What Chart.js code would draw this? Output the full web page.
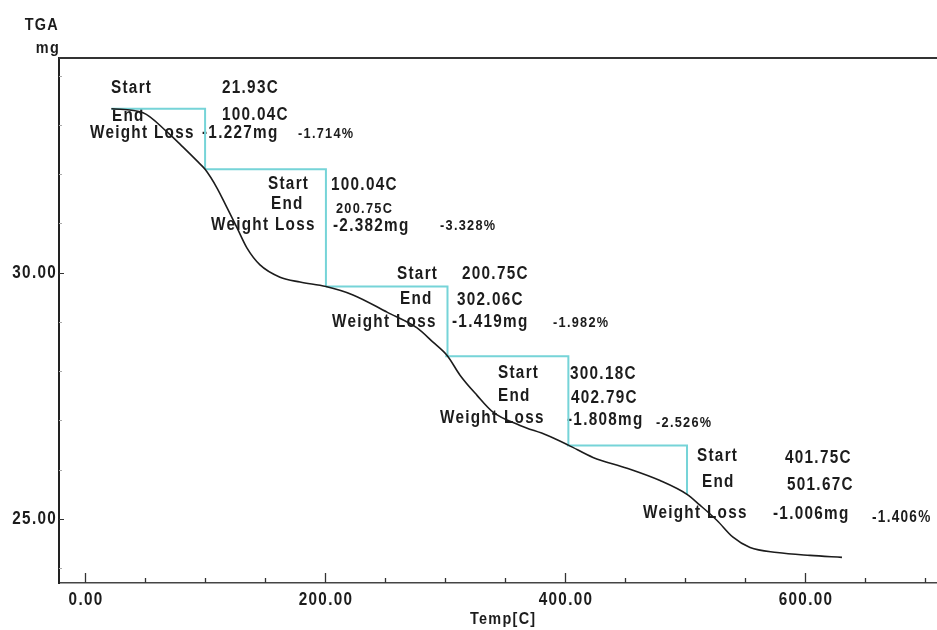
<!DOCTYPE html>
<html>
<head>
<meta charset="utf-8">
<title>TGA</title>
<script src="https://cdn.jsdelivr.net/npm/chart.js@4.4.1/dist/chart.umd.min.js"></script>
<style>
  html, body { margin: 0; padding: 0; background: #fff; }
  canvas { display: block; }
</style>
</head>
<body>
<canvas id="tga" width="937" height="630"></canvas>
<script>
// TGA trace: furnace temperature (C) against sample mass (mg)
const tempC = [21.93, 48.3, 68.3, 81.7, 93.3, 100.04, 110, 118.3, 126.7, 135, 145.8, 162.5, 179.2, 200.75,
  223.3, 251.7, 276.7, 290, 302.06, 312.5, 326.7, 340, 362.5, 385, 402.79, 423.3, 451.7, 479.2, 501.67,
  512.5, 526.7, 540, 554.2, 576.7, 604.2, 630.8];
const massMg = [33.33, 33.25, 32.86, 32.55, 32.27, 32.10, 31.72, 31.32, 30.91, 30.50, 30.16, 29.91, 29.81, 29.72,
  29.55, 29.20, 28.88, 28.59, 28.31, 27.92, 27.51, 27.17, 26.90, 26.70, 26.50, 26.25, 26.03, 25.78, 25.50,
  25.28, 24.97, 24.63, 24.42, 24.32, 24.26, 24.22];

// Weight-loss steps from the analysis
const stepStartC = [21.93, 100.04, 200.75, 300.18, 401.75];
const stepEndC = [100.04, 200.75, 302.06, 402.79, 501.67];
const stepLossMg = [-1.227, -2.382, -1.419, -1.808, -1.006];
const stepLossPct = [-1.714, -3.328, -1.982, -2.526, -1.406];
const onsetMassMg = 33.33;

// Axis labels
const xTickValues = [0, 200, 400, 600];
const yTickValues = [25, 30];

// Where each step's text block sits: [left x, centre y] for each line
const stepTextLayout = [
  { start: [111, 88],  startVal: [222, 88],  end: [112, 116], endVal: [222, 115], wl: [90, 133],  mg: [202, 133], pct: [298, 134] },
  { start: [268, 184], startVal: [331, 185], end: [271, 204], endVal: [336, 209], wl: [211, 225], mg: [333, 226], pct: [440, 226], endValSize: 15 },
  { start: [397, 274], startVal: [462, 274], end: [400, 299], endVal: [457, 300], wl: [332, 322], mg: [452, 322], pct: [553, 323] },
  { start: [498, 373], startVal: [570, 374], end: [498, 396], endVal: [571, 398], wl: [440, 418], mg: [567, 420], pct: [656, 423] },
  { start: [697, 456], startVal: [785, 458], end: [702, 482], endVal: [787, 485], wl: [643, 513], mg: [773, 514], pct: [872, 518], pctSize: 16 }
];

const FONT_FAMILY = '"Liberation Sans", Arial, sans-serif';
const INK = '#1c1c1c';
const CYAN = 'rgb(118, 212, 216)';

// Tall, narrow bold lettering: horizontally squeezed with open spacing
function drawLabel(ctx, text, x, y, size, align) {
  ctx.save();
  ctx.font = 'bold ' + size + 'px ' + FONT_FAMILY;
  ctx.letterSpacing = '1.5px';
  ctx.fillStyle = INK;
  ctx.textBaseline = 'middle';
  ctx.textAlign = align || 'left';
  ctx.translate(x, y);
  ctx.scale(0.85, 1);
  ctx.fillText(text, 0, 0);
  ctx.restore();
}

// Step outlines: horizontal run at the onset mass, then the drop by the step's loss
const stepDatasets = [];
let topMass = onsetMassMg;
for (let i = 0; i < stepStartC.length; i++) {
  const bottom = topMass + stepLossMg[i];
  stepDatasets.push({
    data: [
      { x: stepStartC[i], y: topMass },
      { x: stepEndC[i], y: topMass },
      { x: stepEndC[i], y: bottom }
    ],
    showLine: true,
    borderColor: CYAN,
    borderWidth: 2,
    pointRadius: 0,
    tension: 0,
    order: 2
  });
  topMass = bottom;
}

const curveDataset = {
  data: tempC.map((t, i) => ({ x: t, y: massMg[i] })),
  showLine: true,
  borderColor: INK,
  borderWidth: 1.6,
  pointRadius: 0,
  cubicInterpolationMode: 'monotone',
  order: 0
};

const tgaDecor = {
  id: 'tgaDecor',
  beforeDatasetsDraw(chart) {
    const { ctx, chartArea: a, scales: { x, y } } = chart;
    ctx.save();

    // upper frame line
    ctx.strokeStyle = '#333';
    ctx.lineWidth = 2;
    ctx.beginPath();
    ctx.moveTo(a.left, a.top);
    ctx.lineTo(a.right, a.top);
    ctx.stroke();

    // inward tick marks on the temperature axis, every 50 C
    ctx.strokeStyle = '#333';
    ctx.lineWidth = 1.3;
    for (let t = 0; t <= 700; t += 50) {
      const px = Math.round(x.getPixelForValue(t)) + 0.5;
      const len = t % 200 === 0 ? 10 : 5;
      ctx.beginPath();
      ctx.moveTo(px, a.bottom);
      ctx.lineTo(px, a.bottom - len);
      ctx.stroke();
    }
    // inward tick marks on the mass axis, every 1 mg
    ctx.lineWidth = 1;
    for (let m = 24; m <= 34; m++) {
      const py = Math.round(y.getPixelForValue(m)) + 0.5;
      const len = m % 5 === 0 ? 5 : 3;
      ctx.strokeStyle = m % 5 === 0 ? '#333' : '#aaa';
      ctx.beginPath();
      ctx.moveTo(a.left, py);
      ctx.lineTo(a.left + len, py);
      ctx.stroke();
    }

    // tick labels, placed through the scales
    xTickValues.forEach(v => drawLabel(ctx, v.toFixed(2), x.getPixelForValue(v) + 1, 600, 18, 'center'));
    yTickValues.forEach(v => drawLabel(ctx, v.toFixed(2), 57, y.getPixelForValue(v), 18, 'right'));

    // axis titles
    drawLabel(ctx, 'TGA', 59, 25, 17, 'right');
    drawLabel(ctx, 'mg', 60, 48, 17, 'right');
    drawLabel(ctx, 'Temp[C]', 470, 619, 17, 'left');

    // step annotations
    stepTextLayout.forEach((p, i) => {
      drawLabel(ctx, 'Start', p.start[0], p.start[1], 18);
      drawLabel(ctx, stepStartC[i].toFixed(2) + 'C', p.startVal[0], p.startVal[1], 18);
      drawLabel(ctx, 'End', p.end[0], p.end[1], 18);
      drawLabel(ctx, stepEndC[i].toFixed(2) + 'C', p.endVal[0], p.endVal[1], p.endValSize || 18);
      drawLabel(ctx, 'Weight Loss', p.wl[0], p.wl[1], 18);
      drawLabel(ctx, stepLossMg[i].toFixed(3) + 'mg', p.mg[0], p.mg[1], 18);
      drawLabel(ctx, stepLossPct[i].toFixed(3) + '%', p.pct[0], p.pct[1], p.pctSize || 15);
    });

    ctx.restore();
  }
};

new Chart(document.getElementById('tga'), {
  type: 'scatter',
  data: { datasets: [curveDataset, ...stepDatasets] },
  options: {
    responsive: false,
    animation: false,
    devicePixelRatio: 1,
    layout: { padding: { top: 58, right: 0, bottom: 0, left: 0 } },
    plugins: {
      legend: { display: false },
      tooltip: { enabled: false }
    },
    scales: {
      x: {
        type: 'linear',
        min: -21.7,
        max: 710,
        afterFit(scale) { scale.height = 47; },
        grid: { display: false, drawTicks: false },
        border: { display: true, color: '#444', width: 1.5 },
        ticks: { display: false }
      },
      y: {
        type: 'linear',
        min: 23.70,
        max: 34.36,
        afterFit(scale) { scale.width = 59; },
        grid: { display: false, drawTicks: false },
        border: { display: true, color: '#222', width: 2 },
        ticks: { display: false }
      }
    }
  },
  plugins: [tgaDecor]
});
</script>
</body>
</html>
